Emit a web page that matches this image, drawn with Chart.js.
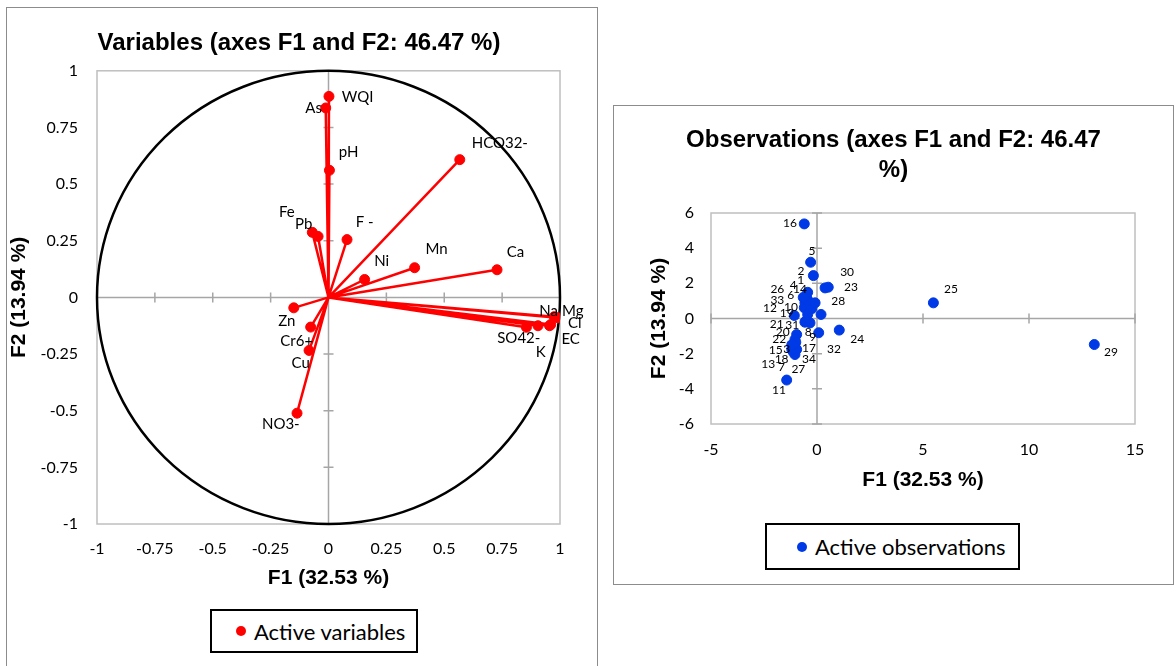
<!DOCTYPE html>
<html>
<head>
<meta charset="utf-8">
<script src="https://cdn.jsdelivr.net/npm/chart.js@4.4.0/dist/chart.umd.min.js"></script>
<style>
  body{margin:0;background:#fff;width:1176px;height:666px;position:relative;overflow:hidden;font-family:Lato, sans-serif;}
  .panel{position:absolute;border:1px solid #8c8c8c;box-sizing:border-box;}
  #leftPanel{left:6px;top:7px;width:592px;height:700px;}
  #rightPanel{left:613px;top:105px;width:561px;height:480px;}
  canvas{position:absolute;}
  #varChart{left:0;top:0;}
  #obsChart{left:613px;top:105px;}
  .legend{position:absolute;border:2px solid #000;box-sizing:border-box;background:#fff;
    font-family:Lato, sans-serif;font-size:22px;color:#000;display:flex;align-items:center;}
  .legend .dot{width:10px;height:10px;border-radius:50%;display:inline-block;margin-right:8px;}
  #varLegend{left:210px;top:609px;width:208px;height:44px;padding-left:24px;}
  #obsLegend{left:765px;top:523px;width:255px;height:47px;padding-left:30px;}
</style>
</head>
<body>
<div class="panel" id="leftPanel"></div>
<div class="panel" id="rightPanel"></div>
<canvas id="varChart" width="598" height="600"></canvas>
<canvas id="obsChart" width="561" height="400"></canvas>
<div class="legend" id="varLegend"><span class="dot" style="background:#ff0000"></span>Active variables</div>
<div class="legend" id="obsLegend"><span class="dot" style="background:#0039e6"></span>Active observations</div>
<script>
// variables (correlation circle)
const varNames = ['WQI','As','pH','HCO32-','Fe','Pb','F -','Ni','Mn','Ca','Na','Mg','Cl','EC','SO42-','K','Zn','Cr6+','Cu','NO3-'];
const varF1 = [0.002,-0.012,0.004,0.567,-0.07,-0.045,0.08,0.156,0.372,0.728,0.975,0.99,0.96,0.955,0.855,0.905,-0.15,-0.077,-0.084,-0.136];
const varF2 = [0.887,0.836,0.561,0.608,0.287,0.269,0.255,0.079,0.131,0.122,-0.085,-0.09,-0.12,-0.125,-0.132,-0.125,-0.046,-0.131,-0.234,-0.511];
// where the names sit (axis units)
const varLabelF1 = [0.126,-0.064,0.087,0.74,-0.18,-0.107,0.156,0.23,0.467,0.808,0.951,1.055,1.064,1.046,0.822,0.917,-0.18,-0.137,-0.12,-0.206];
const varLabelF2 = [0.883,0.834,0.64,0.68,0.375,0.322,0.331,0.159,0.212,0.199,-0.062,-0.062,-0.115,-0.185,-0.181,-0.243,-0.106,-0.194,-0.291,-0.561];

// observations
const obsNames = [];
for (let i = 1; i <= 34; i++) obsNames.push(String(i));
const obsF1 = [-0.44,-0.17,-1.04,-0.49,-0.3,-0.57,-1.04,-0.33,0.08,-0.6,-1.43,-0.25,-1.12,-0.4,-1.19,-0.6,-0.96,-1.19,-1.07,-0.96,-0.57,-1.04,0.38,1.05,5.49,-0.65,-1.0,-0.09,13.08,0.53,-0.53,0.19,-0.44,-1.12];
const obsF2 = [1.49,2.44,-1.6,1.18,3.2,0.89,-2.05,-0.25,-0.81,0.61,-3.5,0.55,-1.9,1.0,-1.5,5.38,-1.76,-1.76,0.17,-0.91,-0.21,-1.19,1.74,-0.66,0.89,1.2,-1.35,0.89,-1.48,1.78,-0.15,0.23,0.23,-1.48];
const obsLabelF1 = [-0.77,-0.75,-1.43,-1.12,-0.24,-1.24,-1.67,-0.41,-0.2,-1.23,-1.79,-2.22,-2.3,-0.8,-1.95,-1.27,-0.38,-1.67,-1.43,-1.62,-1.9,-1.78,1.6,1.9,6.32,-1.87,-0.88,1.0,13.87,1.42,-1.17,0.8,-1.87,-0.38];
const obsLabelF2 = [2.18,2.67,-1.76,1.875,3.86,1.31,-2.77,-0.76,-1.06,0.66,-4.09,0.61,-2.61,1.65,-1.8,5.45,-1.7,-2.29,0.28,-0.78,-0.34,-1.15,1.76,-1.19,1.65,1.69,-2.9,0.97,-1.93,2.61,-0.4,-1.76,1.02,-2.29];

const tickFont = {family:'Lato', size:16};
const axisTitleFont = {family:'Liberation Sans', size:21, weight:'bold'};
const chartTitleFont = {family:'Liberation Sans', size:24, weight:'bold'};
const fmt = v => String(Number(v.toFixed(2)));

// frame, zero lines and little ticks on the zero lines
function drawFrame(chart, xStep, yStep){
  const {ctx, chartArea:a, scales:{x, y}} = chart;
  ctx.save();
  ctx.strokeStyle = '#bfbfbf';
  ctx.lineWidth = 1.5;
  ctx.strokeRect(a.left, a.top, a.width, a.height);
  const x0 = x.getPixelForValue(0), y0 = y.getPixelForValue(0);
  ctx.strokeStyle = '#a6a6a6';
  ctx.beginPath();
  ctx.moveTo(x0, a.top); ctx.lineTo(x0, a.bottom);
  ctx.moveTo(a.left, y0); ctx.lineTo(a.right, y0);
  for (let v = y.min; v <= y.max + 1e-9; v += yStep){
    const py = y.getPixelForValue(v);
    ctx.moveTo(x0 - 5, py); ctx.lineTo(x0 + 5, py);
  }
  for (let v = x.min; v <= x.max + 1e-9; v += xStep){
    const px = x.getPixelForValue(v);
    ctx.moveTo(px, y0 - 5); ctx.lineTo(px, y0 + 5);
  }
  ctx.stroke();
  ctx.restore();
}

function drawNames(chart, names, lx, ly, font){
  const {ctx, scales:{x, y}} = chart;
  ctx.save();
  ctx.fillStyle = '#000';
  ctx.font = font;
  ctx.textAlign = 'center';
  ctx.textBaseline = 'middle';
  names.forEach((n, i) => {
    ctx.fillText(n, x.getPixelForValue(lx[i]), y.getPixelForValue(ly[i]));
  });
  ctx.restore();
}

const circlePlugin = {
  id:'circle',
  beforeDatasetsDraw(chart){
    drawFrame(chart, 0.25, 0.25);
    const {ctx, scales:{x, y}} = chart;
    const cx = x.getPixelForValue(0), cy = y.getPixelForValue(0);
    ctx.save();
    ctx.strokeStyle = '#000';
    ctx.lineWidth = 2.5;
    ctx.beginPath();
    ctx.ellipse(cx, cy, x.getPixelForValue(1) - cx, cy - y.getPixelForValue(1), 0, 0, Math.PI * 2);
    ctx.stroke();
    // vectors
    ctx.strokeStyle = '#ff0000';
    ctx.lineWidth = 2.5;
    ctx.beginPath();
    varF1.forEach((v, i) => {
      ctx.moveTo(cx, cy);
      ctx.lineTo(x.getPixelForValue(v), y.getPixelForValue(varF2[i]));
    });
    ctx.stroke();
    ctx.restore();
  },
  afterDatasetsDraw(chart){
    drawNames(chart, varNames, varLabelF1, varLabelF2, '15px Lato');
  }
};

const obsPlugin = {
  id:'obsFrame',
  beforeDatasetsDraw(chart){ drawFrame(chart, 5, 2); },
  afterDatasetsDraw(chart){
    drawNames(chart, obsNames, obsLabelF1, obsLabelF2, '12px Lato');
  }
};

// empty right axis just to keep room on the right side
function spacer(w){
  return {type:'linear', position:'right', display:true,
    grid:{display:false, drawTicks:false}, border:{display:false},
    ticks:{display:false}, afterFit(s){ s.width = w; }};
}

new Chart(document.getElementById('varChart'), {
  type:'scatter',
  data:{
    datasets:[{
      label:'Active variables',
      data: varF1.map((v, i) => ({x:v, y:varF2[i]})),
      backgroundColor:'#ff0000',
      borderColor:'#ff0000',
      pointRadius:5,
      pointHoverRadius:5
    }]
  },
  options:{
    responsive:false,
    animation:false,
    layout:{padding:0},
    plugins:{
      legend:{display:false},
      tooltip:{enabled:false},
      title:{display:true, text:'Variables (axes F1 and F2: 46.47 %)', color:'#000',
        font:chartTitleFont, padding:{top:29, bottom:13}}
    },
    scales:{
      x:{
        type:'linear', min:-1, max:1,
        grid:{display:false, drawTicks:false}, border:{display:false},
        ticks:{stepSize:0.25, color:'#000', font:tickFont, padding:15, callback:fmt},
        title:{display:true, text:'F1 (32.53 %)', color:'#000', font:axisTitleFont, padding:{top:0, bottom:9}},
        afterFit(s){ s.height = 76; }
      },
      y:{
        type:'linear', min:-1, max:1,
        grid:{display:false, drawTicks:false}, border:{display:false},
        ticks:{stepSize:0.25, color:'#000', font:tickFont, padding:19, callback:fmt},
        title:{display:true, text:'F2 (13.94 %)', color:'#000', font:axisTitleFont, padding:{top:7, bottom:0}},
        afterFit(s){ s.width = 97; }
      },
      pad:spacer(38)
    }
  },
  plugins:[circlePlugin]
});

new Chart(document.getElementById('obsChart'), {
  type:'scatter',
  data:{
    datasets:[{
      label:'Active observations',
      data: obsF1.map((v, i) => ({x:v, y:obsF2[i]})),
      backgroundColor:'#0039e6',
      borderColor:'#0039e6',
      pointRadius:5,
      pointHoverRadius:5
    }]
  },
  options:{
    responsive:false,
    animation:false,
    layout:{padding:0},
    plugins:{
      legend:{display:false},
      tooltip:{enabled:false},
      title:{display:true, text:['Observations (axes F1 and F2: 46.47','%)'], color:'#000',
        font:Object.assign({}, chartTitleFont, {lineHeight:1.25}), padding:{top:20, bottom:28}}
    },
    scales:{
      x:{
        type:'linear', min:-5, max:15,
        grid:{display:false, drawTicks:false}, border:{display:false},
        ticks:{stepSize:5, color:'#000', font:tickFont, padding:16},
        title:{display:true, text:'F1 (32.53 %)', color:'#000', font:axisTitleFont, padding:{top:0, bottom:12}},
        afterFit(s){ s.height = 81; }
      },
      y:{
        type:'linear', min:-6, max:6,
        grid:{display:false, drawTicks:false}, border:{display:false},
        ticks:{stepSize:2, color:'#000', font:tickFont, padding:17},
        title:{display:true, text:'F2 (13.94 %)', color:'#000', font:axisTitleFont, padding:{top:34, bottom:0}},
        afterFit(s){ s.width = 98; }
      },
      pad:spacer(39)
    }
  },
  plugins:[obsPlugin]
});
</script>
</body>
</html>
